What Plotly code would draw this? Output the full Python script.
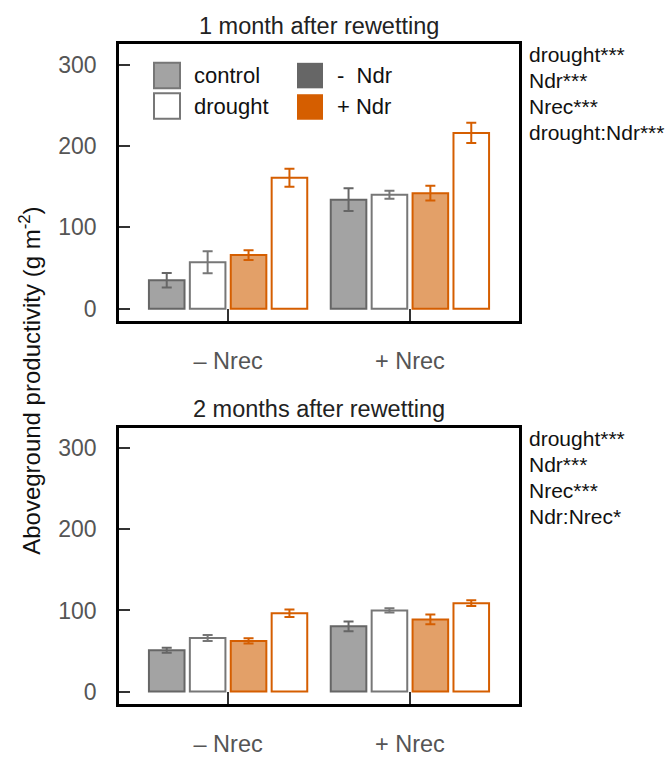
import plotly.graph_objects as go

W, H = 670, 757

# ---- data -------------------------------------------------------------
groups = ["– Nrec", "+ Nrec"]

# 1 month after rewetting (mean, SE), ordered as in `groups`
m1_control_noNdr = [35, 134]
m1_drought_noNdr = [57, 140]
m1_control_Ndr = [66, 142]
m1_drought_Ndr = [161, 216]
se1_control_noNdr = [9, 14]
se1_drought_noNdr = [13.5, 5]
se1_control_Ndr = [6, 9]
se1_drought_Ndr = [11, 12.5]

# 2 months after rewetting (mean, SE)
m2_control_noNdr = [51, 80.5]
m2_drought_noNdr = [66, 100]
m2_control_Ndr = [62.5, 89]
m2_drought_Ndr = [96.5, 109]
se2_control_noNdr = [3, 6]
se2_drought_noNdr = [3.8, 2.6]
se2_control_Ndr = [3.2, 6]
se2_drought_Ndr = [4.6, 3.6]

y_ticks = [0, 100, 200, 300]
stats_1 = ["drought***", "Ndr***", "Nrec***", "drought:Ndr***"]
stats_2 = ["drought***", "Ndr***", "Nrec***", "Ndr:Nrec*"]
panel_titles = ["1 month after rewetting", "2 months after rewetting"]

# ---- styles -----------------------------------------------------------
FONT = "Liberation Sans, Arial, Helvetica, sans-serif"
GREY_FILL = "#a3a3a3"
GREY_LINE = "#666666"
GREY_OPEN = "#777777"
ORANGE = "#d55e00"
ORANGE_FILL = "#e3a068"


def px(x):
    return x / W


def py(y):
    return 1 - y / H


def bar(y, err, fill, line, xa, ya):
    return go.Bar(
        x=groups, y=y, xaxis=xa, yaxis=ya, showlegend=False,
        marker=dict(color=fill, line=dict(color=line, width=2)),
        error_y=dict(type="data", array=err, color=line, thickness=2, width=5),
    )


fig = go.Figure()
panels = [
    ("x", "y", (m1_control_noNdr, m1_drought_noNdr, m1_control_Ndr, m1_drought_Ndr),
     (se1_control_noNdr, se1_drought_noNdr, se1_control_Ndr, se1_drought_Ndr)),
    ("x2", "y2", (m2_control_noNdr, m2_drought_noNdr, m2_control_Ndr, m2_drought_Ndr),
     (se2_control_noNdr, se2_drought_noNdr, se2_control_Ndr, se2_drought_Ndr)),
]
styles = [(GREY_FILL, GREY_LINE), ("white", GREY_OPEN),
          (ORANGE_FILL, ORANGE), ("white", ORANGE)]
for xa, ya, means, errs in panels:
    for m, e, (fill, line) in zip(means, errs, styles):
        fig.add_trace(bar(m, e, fill, line, xa, ya))

# panel frames (pixels): left, right, top, bottom
frames = [(119, 519, 45, 327), (119, 519, 436, 717)]

axis_common = dict(showline=True, mirror=True, linecolor="black", linewidth=2.5,
                   showgrid=False, zeroline=False, ticks="inside",
                   tickwidth=2, tickcolor="#333333")
xax = dict(axis_common, ticklen=12, range=[-0.6, 1.6],
           tickfont=dict(family=FONT, size=23.5, color="#555555"),
           ticklabelstandoff=17)
yax = dict(axis_common, ticklen=11, range=[-15, 325], tickvals=y_ticks,
           tickfont=dict(family=FONT, size=23, color="#555555"),
           ticklabelstandoff=15)

(l1, r1, t1, b1), (l2, r2, t2, b2) = frames
fig.update_layout(
    width=W, height=H, margin=dict(l=0, r=0, t=0, b=0),
    paper_bgcolor="white", plot_bgcolor="white",
    barmode="group", bargap=0.1, bargroupgap=0.13,
    xaxis=dict(xax, domain=[px(l1), px(r1)], anchor="y"),
    yaxis=dict(yax, domain=[py(b1), py(t1)], anchor="x"),
    xaxis2=dict(xax, domain=[px(l2), px(r2)], anchor="y2"),
    yaxis2=dict(yax, domain=[py(b2), py(t2)], anchor="x2"),
    font=dict(family=FONT),
)

annotations = []
# panel titles
for (l, r, t, b), title in zip(frames, panel_titles):
    annotations.append(dict(text=title, x=px((l + r) / 2), y=py(t - 19),
                            xref="paper", yref="paper", showarrow=False,
                            xanchor="center", yanchor="middle",
                            font=dict(family=FONT, size=23.5, color="#222222")))

# significance lists to the right of each panel
for (l, r, t, b), stats in zip(frames, [stats_1, stats_2]):
    for i, s in enumerate(stats):
        annotations.append(dict(text=s, x=px(527), y=py(t + 10.7 + i * 26.5),
                                xref="paper", yref="paper", showarrow=False,
                                xanchor="left", yanchor="middle",
                                font=dict(family=FONT, size=21, color="#111111")))

# shared y-axis title
annotations.append(dict(text="Aboveground productivity (g m<sup>-2</sup>)",
                        x=px(30), y=py(388), xref="paper", yref="paper",
                        showarrow=False, textangle=-90,
                        xanchor="center", yanchor="middle",
                        font=dict(family=FONT, size=24, color="#111111")))

# legend: squares + labels
shapes = []
legend_items = [
    (154, 64, GREY_FILL, GREY_OPEN, 2, "control"),
    (154, 95, "white", GREY_OPEN, 2, "drought"),
    (297, 64, GREY_LINE, GREY_LINE, 0, "-  Ndr"),
    (297, 96, ORANGE, ORANGE, 0, "+ Ndr"),
]
for x0, y0, fill, line, lw, label in legend_items:
    shapes.append(dict(type="rect", xref="paper", yref="paper",
                       x0=px(x0), x1=px(x0 + 26), y0=py(y0), y1=py(y0 + 26),
                       fillcolor=fill, line=dict(color=line, width=lw)))
    tx = 192 if x0 < 200 else 335
    annotations.append(dict(text=label, x=px(tx), y=py(y0 + 13),
                            xref="paper", yref="paper", showarrow=False,
                            xanchor="left", yanchor="middle",
                            font=dict(family=FONT, size=22, color="#111111")))

fig.update_layout(annotations=annotations, shapes=shapes)
fig.write_html("out.html")
